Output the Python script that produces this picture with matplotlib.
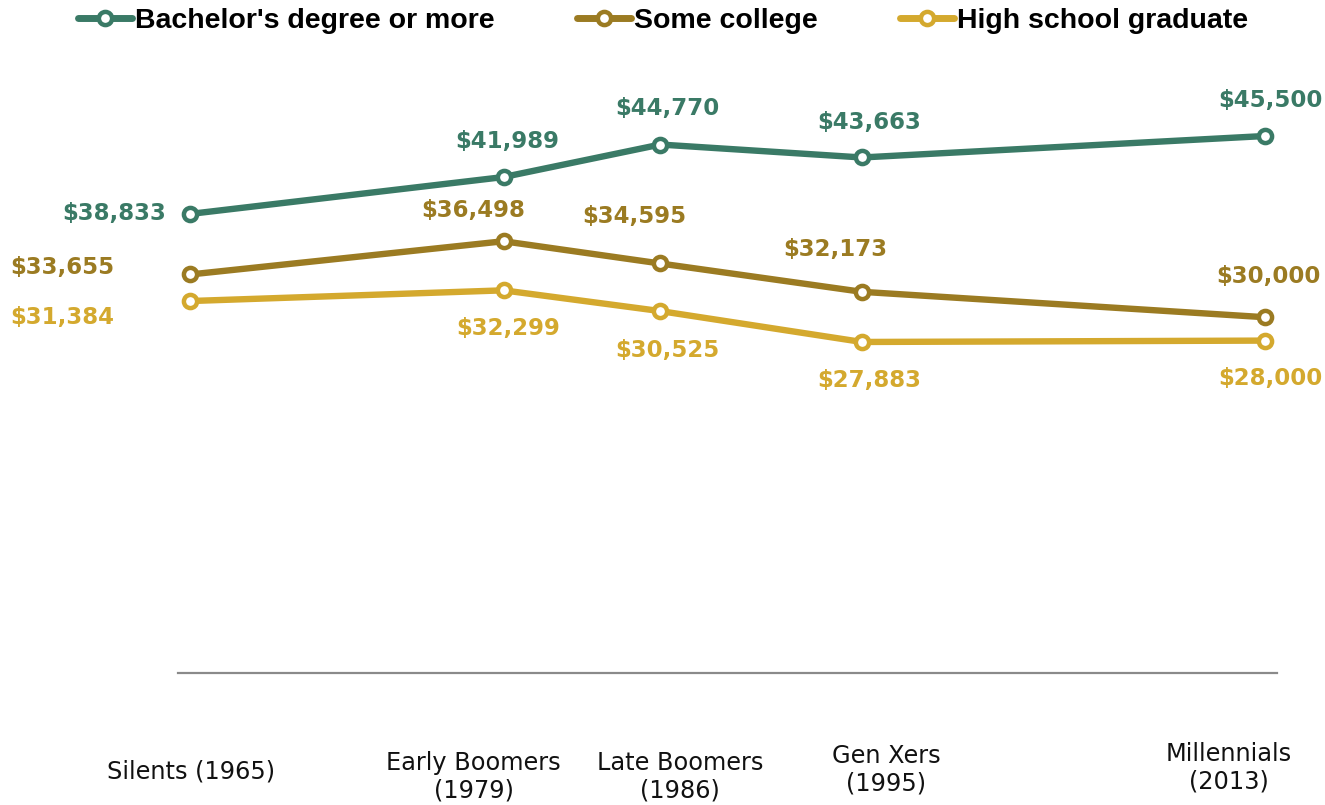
import matplotlib.pyplot as plt

# Median annual earnings by education level, per generation
generations = ['Silents (1965)', 'Early Boomers\n(1979)', 'Late Boomers\n(1986)',
               'Gen Xers\n(1995)', 'Millennials\n(2013)']
years = [1965, 1979, 1986, 1995, 2013]
bachelor = [38833, 41989, 44770, 43663, 45500]
some_college = [33655, 36498, 34595, 32173, 30000]
high_school = [31384, 32299, 30525, 27883, 28000]

series_names = ["Bachelor's degree or more", 'Some college', 'High school graduate']
colors = ['#3a7a66', '#9b7b22', '#d4a92e']

# value label offsets in pixels (dx, dy, horizontal alignment)
label_offsets = [
    [(-24, 0, 'right'), (4, 36, 'center'), (7, 36, 'center'), (7, 35, 'center'), (5, 35, 'center')],
    [(-76, 7, 'right'), (-30, 31, 'center'), (-26, 47, 'center'), (-27, 42, 'center'), (3, 41, 'center')],
    [(-76, -16, 'right'), (5, -38, 'center'), (7, -39, 'center'), (7, -39, 'center'), (5, -38, 'center')],
]
# generation label offsets in pixels from the baseline below each year
gen_offsets = [(1, -98), (-30, -104), (20, -104), (24, -97), (-36, -95)]

W, H = 1325, 805
fig = plt.figure(figsize=(W / 100, H / 100), dpi=100)
ax = fig.add_axes([178 / W, 1 - 673 / H, (1277 - 178) / W, (673 - 100) / H])

all_series = [bachelor, some_college, high_school]
for vals, name, col, offs in zip(all_series, series_names, colors, label_offsets):
    ax.plot(years, vals, color=col, lw=4.6, marker='o', ms=9.5, mfc='white',
            mec=col, mew=3.2, label=name, solid_capstyle='round')
    for x, v, (dx, dy, ha) in zip(years, vals, offs):
        ax.annotate(f'${v:,}', (x, v), xytext=(dx, dy), textcoords='offset pixels',
                    ha=ha, va='center', color=col, fontsize=16.5,
                    fontweight='bold', family='DejaVu Sans')

for yr, lab, (dx, dy) in zip(years, generations, gen_offsets):
    ax.annotate(lab, (yr, 0), xycoords=('data', 'axes fraction'),
                xytext=(dx, dy), textcoords='offset pixels',
                ha='center', va='center', fontsize=17.3, color='#111111',
                family='DejaVu Sans', linespacing=1.2, annotation_clip=False)

ax.set_xlim(1964.464, 2013.536)
ax.set_ylim(-430, 48579)
for s in ['top', 'right', 'left']:
    ax.spines[s].set_visible(False)
ax.spines['bottom'].set_color('#8a8a8a')
ax.spines['bottom'].set_linewidth(1.6)
ax.set_yticks([])
ax.set_xticks([])

leg = fig.legend(loc='center', bbox_to_anchor=(663 / W, 1 - 21 / H), ncol=3,
                 frameon=False, handlelength=1.9, handletextpad=0.1,
                 columnspacing=2.9, prop={'family': 'Liberation Sans',
                                          'weight': 'bold', 'size': 20.5})
for line in leg.get_lines():
    line.set_linewidth(5)

fig.savefig('out.png', dpi=100, facecolor='white')
